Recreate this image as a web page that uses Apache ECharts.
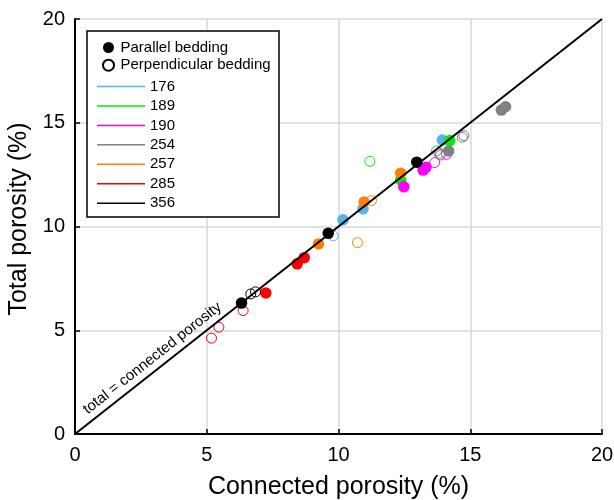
<!DOCTYPE html>
<html>
<head>
<meta charset="utf-8">
<script src="https://cdn.jsdelivr.net/npm/echarts@6/dist/echarts.min.js"></script>
<style>html,body{margin:0;padding:0;background:#fff}#c{width:614px;height:500px}</style>
</head>
<body>
<div id="c"></div>
<script>
// ---- data ----
const samples = ['176', '189', '190', '254', '257', '285', '356'];
const xTicks = [0, 5, 10, 15, 20];
const yTicks = [0, 5, 10, 15, 20];
const beddingLabels = ['Parallel bedding', 'Perpendicular bedding'];
const lineLabel = 'total = connected porosity';
const xTitle = 'Connected porosity (%)';
const yTitle = 'Total porosity (%)';

// parallel bedding (filled): [connected, total]
const par176 = [[10.17, 10.32], [10.93, 10.85], [13.94, 14.17]];
const par189 = [[12.36, 12.24], [14.22, 14.14]];
const par190 = [[12.48, 11.91], [13.21, 12.72], [13.32, 12.86]];
const par254 = [[14.18, 13.64], [16.18, 15.61], [16.34, 15.77]];
const par257 = [[9.24, 9.16], [10.97, 11.18], [12.36, 12.57]];
const par285 = [[7.24, 6.80], [8.43, 8.20], [8.70, 8.50]];
const par356 = [[6.32, 6.31], [9.61, 9.67], [12.97, 13.10]];

// perpendicular bedding (open): [connected, total]
const perp176 = [[9.80, 9.55]];
const perp189 = [[11.19, 13.14], [13.72, 13.64], [13.84, 13.53]];
const perp190 = [[13.65, 13.08], [13.87, 13.45], [14.10, 13.48]];
const perp254 = [[14.70, 14.30], [14.76, 14.38]];
const perp257 = [[10.72, 9.22], [11.25, 11.25]];
const perp285 = [[6.38, 5.95], [5.46, 5.15], [5.18, 4.62]];
const perp356 = [[6.67, 6.75], [6.85, 6.85]];

const identityLine = [[0, 0], [20, 20]];

// ---- styling ----
const colors = {
  '176': '#56b4e9', '189': '#00ee00', '190': '#ff00ff', '254': '#808080',
  '257': '#ff8000', '285': '#ff0000', '356': '#000000'
};
const parData = { '176': par176, '189': par189, '190': par190, '254': par254, '257': par257, '285': par285, '356': par356 };
const perpData = { '176': perp176, '189': perp189, '190': perp190, '254': perp254, '257': perp257, '285': perp285, '356': perp356 };
const FONT = 'Liberation Sans, Arial, Helvetica, sans-serif';

const series = [];
series.push({ name: beddingLabels[0], type: 'scatter', data: [], symbol: 'circle', itemStyle: { color: '#000', opacity: 1 } });
series.push({ name: beddingLabels[1], type: 'scatter', data: [], symbol: 'circle',
  itemStyle: { color: '#fff', borderColor: '#000', borderWidth: 1, opacity: 1 } });

samples.forEach(s => {
  const c = colors[s];
  const data = [];
  perpData[s].forEach(p => data.push({ value: p, symbolSize: 10,
    itemStyle: { color: 'transparent', borderColor: c, borderWidth: 1, opacity: 1 } }));
  parData[s].forEach(p => data.push({ value: p, symbolSize: 11.5, itemStyle: { color: c, opacity: 1 } }));
  series.push({ name: s, type: 'scatter', symbol: 'circle', data: data, itemStyle: { color: c, opacity: 1 }, z: 3 });
});

series.push({
  name: 'identity', type: 'line', data: [], z: 5, silent: true,
  markLine: {
    silent: true, symbol: ['none', 'none'], animation: false,
    lineStyle: { color: '#000', width: 2, type: 'solid', opacity: 1 },
    label: { show: true, position: 'insideStartTop', formatter: lineLabel, fontSize: 15,
      fontFamily: FONT, color: '#000', distance: [22, 4] },
    data: [[{ coord: identityLine[0] }, { coord: identityLine[1] }]]
  }
});

const chart = echarts.init(document.getElementById('c'), null, { renderer: 'canvas' });
chart.setOption({
  animation: false,
  backgroundColor: '#fff',
  textStyle: { fontFamily: FONT },
  grid: { left: 75, right: 12, top: 19, bottom: 66, containLabel: false, outerBoundsMode: 'none' },
  xAxis: {
    type: 'value', min: xTicks[0], max: xTicks[xTicks.length - 1], interval: 5,
    name: xTitle, nameLocation: 'middle', nameGap: 41,
    nameTextStyle: { fontSize: 25, color: '#000', fontFamily: FONT },
    axisLine: { show: true, onZero: false, lineStyle: { color: '#000', width: 2 } },
    axisTick: { show: true, inside: true, length: 5, lineStyle: { color: '#000', width: 1.5 } },
    axisLabel: { fontSize: 20, color: '#000', margin: 11, fontFamily: FONT },
    splitLine: { show: true, lineStyle: { color: '#d9d9d9', width: 1.5 } }
  },
  yAxis: {
    type: 'value', min: yTicks[0], max: yTicks[yTicks.length - 1], interval: 5,
    name: yTitle, nameLocation: 'middle', nameGap: 29, nameRotate: 90,
    nameTextStyle: { fontSize: 25, color: '#000', fontFamily: FONT, padding: [0, 0, 0, 15] },
    axisLine: { show: true, onZero: false, lineStyle: { color: '#000', width: 2 } },
    axisTick: { show: true, inside: true, length: 5, lineStyle: { color: '#000', width: 1.5 } },
    axisLabel: { fontSize: 20, color: '#000', margin: 10, fontFamily: FONT },
    splitLine: { show: true, lineStyle: { color: '#d9d9d9', width: 1.5 } }
  },
  graphic: [{
    type: 'rect', z: 3, silent: true,
    shape: { x: 87, y: 31, width: 192, height: 186 },
    style: { fill: '#fff', stroke: '#000', lineWidth: 1.5 }
  }],
  legend: [{
    orient: 'vertical', left: 97, top: 35, itemWidth: 14, itemHeight: 11, itemGap: 2.7,
    icon: 'circle', selectedMode: false, z: 5,
    textStyle: { fontSize: 15, color: '#000', fontFamily: FONT, lineHeight: 15 },
    data: beddingLabels
  }, {
    orient: 'vertical', left: 92, top: 74, itemWidth: 48, itemHeight: 1.5, itemGap: 4.45,
    icon: 'rect', selectedMode: false, z: 5,
    textStyle: { fontSize: 15, color: '#000', fontFamily: FONT, lineHeight: 15 },
    data: samples
  }],
  series: series
});
</script>
</body>
</html>
